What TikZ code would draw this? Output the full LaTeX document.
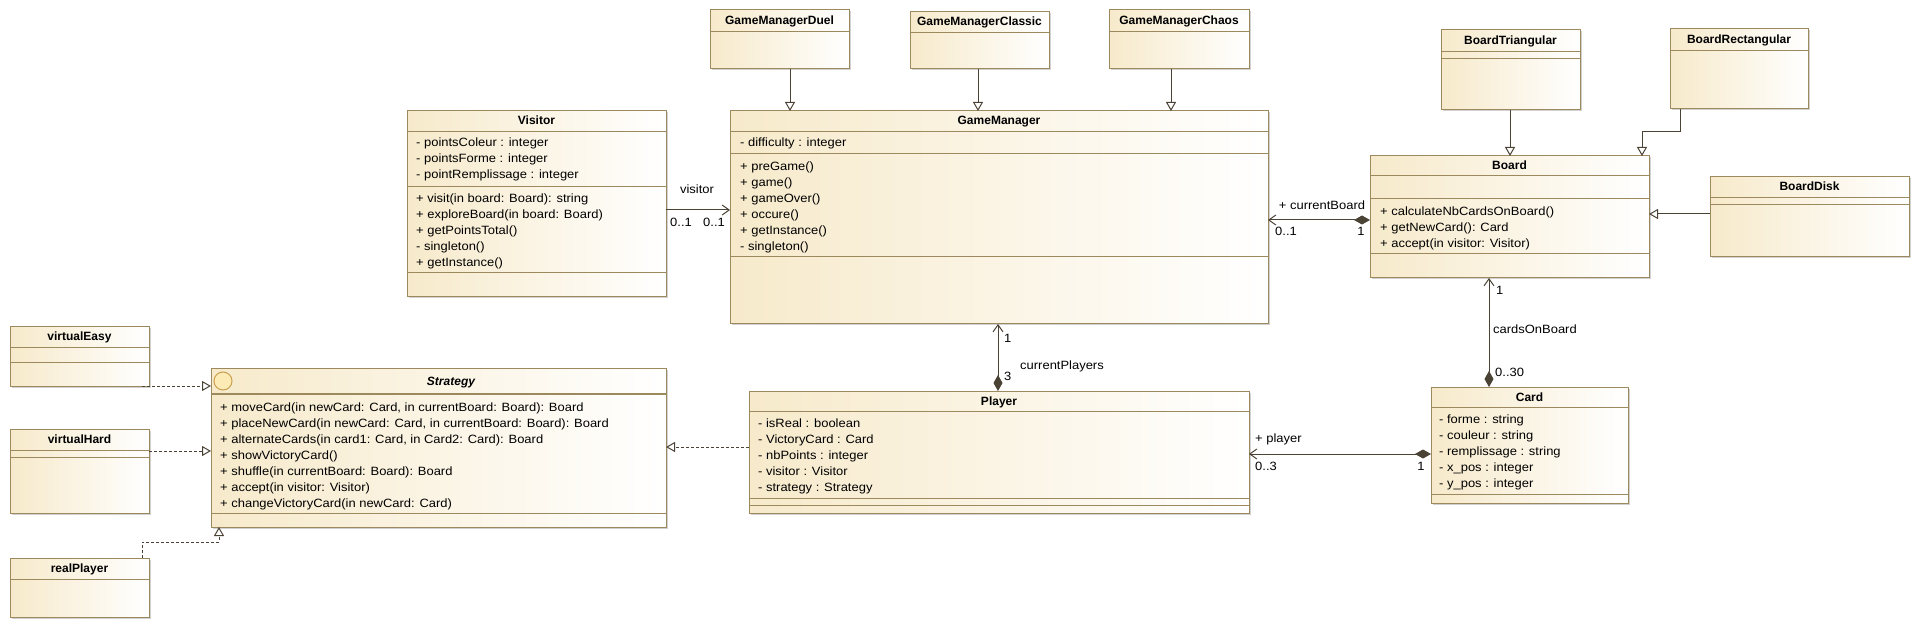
\documentclass[tikz,border=0pt]{standalone}
\usepackage{fontspec}
\setmainfont{Liberation Sans}[FakeStretch=1.08]
\newfontfamily\hdrfont{Liberation Sans}
\usetikzlibrary{arrows.meta,shadows}
\definecolor{bord}{HTML}{9C8A5E}
\definecolor{lin}{HTML}{4A4234}
\definecolor{beige}{HTML}{F7EACB}
\definecolor{txtc}{HTML}{000000}
\definecolor{iconfill}{HTML}{FDEBB5}
\definecolor{iconline}{HTML}{C8A050}
\tikzset{
  cls/.style={draw=bord, line width=1pt, left color=beige, right color=white, inner sep=0pt, outer sep=0pt, anchor=north west,
    drop shadow={shadow xshift=1.5pt, shadow yshift=-1.5pt, fill=black, opacity=0.18}},
  sepline/.style={draw=bord, line width=1pt},
  txt/.style={font=\fontsize{12}{16}\selectfont, inner sep=0pt, anchor=base west, text=txtc},
  hdr/.style={font=\hdrfont\bfseries\fontsize{12}{16}\selectfont, inner sep=0pt, anchor=base, text=txtc},
  conn/.style={draw=lin, line width=1pt},
  nav/.style={conn, -{Straight Barb[length=7pt,width=10pt,line width=1pt]}},
  comp/.style={conn, {Straight Barb[length=7pt,width=10pt,line width=1pt]}-{Diamond[length=16pt,width=9pt,fill=lin]}},
  gen/.style={conn, -{Triangle[open,length=9pt,width=10pt,fill=white]}},
  real/.style={conn, dash pattern=on 3pt off 2pt, -{Triangle[open,length=9pt,width=10pt,fill=white]}},
}
\newcommand\cbox[6]{%
  \node[cls, minimum width={#4-#2}, minimum height={#5-#3}] (#1) at (#2,#3) {};
  \foreach \s in {#6} {\draw[sepline] (#2,\s) -- (#4,\s);}
}
\newcommand\clines[4]{%
  \foreach \t [count=\i] in {#4} {\node[txt] (#1\i) at (#2,{#3+4+16*(\i-1)}) {\t};}
}
\begin{document}
\begin{tikzpicture}[x=1pt,y=-1pt]
\useasboundingbox (0,0) rectangle (1920,628);
\fill[white] (0,0) rectangle (1920,628);

% ---------- Visitor ----------
\cbox{vis}{407}{111}{666}{297}{132,187,273}
\node[hdr] (visH) at (536.5,125) {Visitor};
\clines{visA}{416}{143}{{- pointsColeur : integer},{- pointsForme : integer},{- pointRemplissage : integer}}
\clines{visO}{416}{199}{{+ visit(in board: Board): string},{+ exploreBoard(in board: Board)},{+ getPointsTotal()},{- singleton()},{+ getInstance()}}

% ---------- GameManager ----------
\cbox{gm}{730}{111}{1268}{324}{132,154,257}
\node[hdr] (gmH) at (999,125) {GameManager};
\clines{gmA}{740}{143}{{- difficulty : integer}}
\clines{gmO}{740}{167}{{+ preGame()},{+ game()},{+ gameOver()},{+ occure()},{+ getInstance()},{- singleton()}}

\cbox{gmd}{710}{10}{849}{69}{32}
\node[hdr] (gmdH) at (779.5,25) {GameManagerDuel};
\cbox{gmc}{910}{12}{1049}{69}{33}
\node[hdr] (gmcH) at (979.5,26) {GameManagerClassic};
\cbox{gmx}{1109}{10}{1249}{69}{32}
\node[hdr] (gmxH) at (1179,25) {GameManagerChaos};

% ---------- Board ----------
\cbox{board}{1370}{156}{1649}{278}{176,199,254}
\node[hdr] (boardH) at (1509.5,170) {Board};
\clines{boardO}{1380}{212}{{+ calculateNbCardsOnBoard()},{+ getNewCard(): Card},{+ accept(in visitor: Visitor)}}

\cbox{btri}{1441}{30}{1580}{110}{52,59}
\node[hdr] (btriH) at (1510.5,45) {BoardTriangular};
\cbox{brect}{1670}{29}{1808}{109}{51}
\node[hdr] (brectH) at (1739,44) {BoardRectangular};
\cbox{bdisk}{1710}{177}{1909}{257}{198,205}
\node[hdr] (bdiskH) at (1809.5,191) {BoardDisk};

% ---------- Card ----------
\cbox{card}{1431}{387}{1628}{503}{407,494}
\node[hdr] (cardH) at (1529.5,401) {Card};
\clines{cardA}{1439}{419}{{- forme : string},{- couleur : string},{- remplissage : string},{- x\_pos : integer},{- y\_pos : integer}}

% ---------- Player ----------
\cbox{player}{749}{391}{1249}{513}{411,498,505}
\node[hdr] (playerH) at (999,405) {Player};
\clines{playerA}{758}{423}{{- isReal : boolean},{- VictoryCard : Card},{- nbPoints : integer},{- visitor : Visitor},{- strategy : Strategy}}

% ---------- Strategy ----------
\cbox{strat}{211}{368}{666}{527}{513}
\draw[draw=bord, line width=2pt] (211,394) -- (666,394);
\node[circle, draw=iconline, fill=iconfill, line width=1pt, minimum size=18pt, inner sep=0pt] (stratIcon) at (223,381) {};
\node[hdr, font=\hdrfont\bfseries\itshape\fontsize{12}{16}\selectfont] (stratH) at (451,385) {Strategy};
\clines{stratO}{220}{407}{{+ moveCard(in newCard: Card, in currentBoard: Board): Board},{+ placeNewCard(in newCard: Card, in currentBoard: Board): Board},{+ alternateCards(in card1: Card, in Card2: Card): Board},{+ showVictoryCard()},{+ shuffle(in currentBoard: Board): Board},{+ accept(in visitor: Visitor)},{+ changeVictoryCard(in newCard: Card)}}

\cbox{veasy}{10}{327}{149}{386}{348,362}
\node[hdr] (veasyH) at (79.5,341) {virtualEasy};
\cbox{vhard}{10}{429}{149}{513}{450,457}
\node[hdr] (vhardH) at (79.5,443) {virtualHard};
\cbox{rplayer}{10}{558}{149}{617}{579}
\node[hdr] (rplayerH) at (79.5,572) {realPlayer};

% ---------- connectors ----------
\coordinate (cv) at (0,210);
\draw[nav] (vis.east |- cv) -- (gm.west |- cv);
\node[txt, anchor=base] (lvis) at (697,194) {visitor};
\node[txt, anchor=base] (lvis1) at (681,227) {0..1};
\node[txt, anchor=base] (lvis2) at (714,227) {0..1};

\coordinate (g1) at (790,0);
\coordinate (g2) at (978,0);
\coordinate (g3) at (1171,0);
\draw[gen] (gmd.south -| g1) -- (gm.north -| g1);
\draw[gen] (gmc.south -| g2) -- (gm.north -| g2);
\draw[gen] (gmx.south -| g3) -- (gm.north -| g3);

\coordinate (g4) at (1510,0);
\draw[gen] (btri.south -| g4) -- (board.north -| g4);
\coordinate (r1) at (1680,132);
\coordinate (r2) at (1642,132);
\draw[gen] (brect.south -| r1) -- (r1) -- (r2) -- (board.north -| r2);
\coordinate (bd) at (0,214);
\draw[gen] (bdisk.west |- bd) -- (board.east |- bd);

\coordinate (cb) at (0,220);
\draw[comp] (gm.east |- cb) -- (board.west |- cb);
\node[txt, anchor=base] (lcb) at (1322,210) {+ currentBoard};
\node[txt] (lcb1) at (1275,236) {0..1};
\node[txt, anchor=base] (lcb2) at (1361,236) {1};

\coordinate (cp) at (998,0);
\draw[comp] (gm.south -| cp) -- (player.north -| cp);
\node[txt] (lcp1) at (1004,343) {1};
\node[txt] (lcp2) at (1004,381) {3};
\node[txt, anchor=base] (lcp) at (1062,370) {currentPlayers};

\coordinate (bc) at (1489,0);
\draw[comp] (board.south -| bc) -- (card.north -| bc);
\node[txt] (lbc1) at (1496,295) {1};
\node[txt] (lbc) at (1493,334) {cardsOnBoard};
\node[txt] (lbc2) at (1495,377) {0..30};

\coordinate (pc) at (0,454);
\draw[comp] (player.east |- pc) -- (card.west |- pc);
\node[txt] (lpc) at (1255,442) {+ player};
\node[txt] (lpc1) at (1255,470) {0..3};
\node[txt, anchor=base] (lpc2) at (1421,470) {1};

\coordinate (ps) at (0,447);
\draw[real] (player.west |- ps) -- (strat.east |- ps);

\coordinate (ve) at (142,386);
\draw[real] (veasy.south -| ve) -- (strat.west |- ve);
\coordinate (vh) at (0,451);
\draw[real] (vhard.east |- vh) -- (strat.west |- vh);
\coordinate (rp1) at (142,542);
\coordinate (rp2) at (219,542);
\draw[real] (rplayer.north -| rp1) -- (rp1) -- (rp2) -- (strat.south -| rp2);
\end{tikzpicture}
\end{document}
